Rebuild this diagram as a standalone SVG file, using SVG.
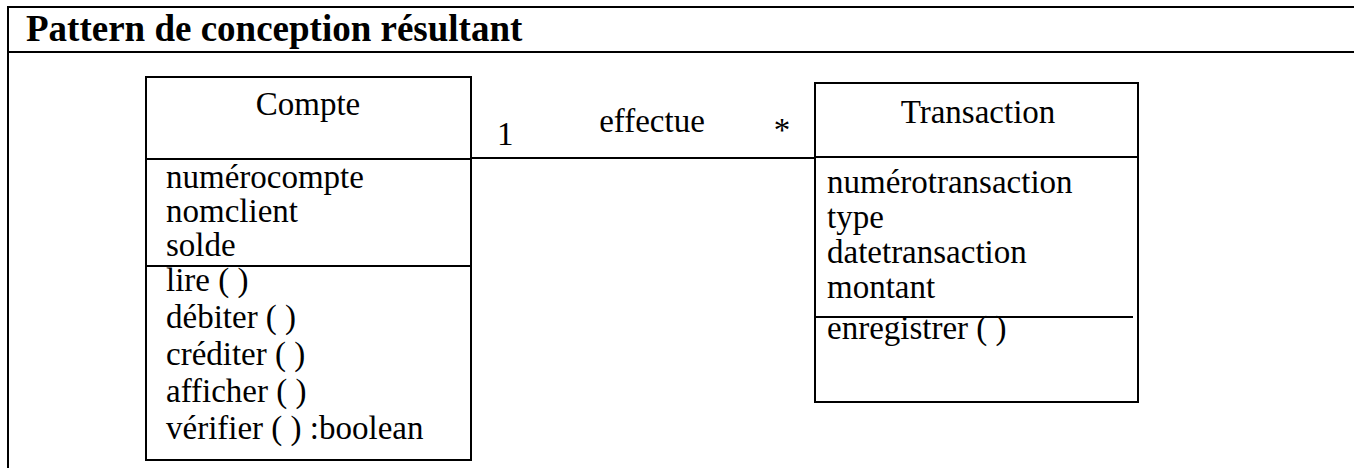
<svg xmlns="http://www.w3.org/2000/svg" width="1354" height="468" viewBox="0 0 1354 468">
<style>
.t{font-family:"Liberation Serif","Times New Roman",serif;font-size:33px;fill:#000}
.title{font-family:"Liberation Serif","Times New Roman",serif;font-size:37px;font-weight:bold;fill:#000}
.ln{stroke:#000;stroke-width:2;fill:none}
.box{stroke:#000;stroke-width:2;fill:#fff}
</style>
<rect width="1354" height="468" fill="#fff"/>
<g id="frame">
<line class="ln" x1="8" y1="7" x2="1354" y2="7"/>
<line class="ln" x1="8" y1="52" x2="1354" y2="52"/>
<line class="ln" x1="8" y1="6" x2="8" y2="468"/>
<text class="title" x="26" y="41">Pattern de conception résultant</text>
</g>
<g id="connectors">
<line class="ln" x1="462" y1="158" x2="815" y2="158"/>
<line stroke="#000" stroke-width="4" x1="462" y1="158" x2="471" y2="158"/>
<text class="t" x="497" y="145">1</text>
<text class="t" x="652" y="132" text-anchor="middle">effectue</text>
<text class="t" x="782" y="141" text-anchor="middle">*</text>
</g>
<g id="compte">
<rect class="box" x="146" y="77" width="325" height="383"/>
<line class="ln" x1="146" y1="159" x2="471" y2="159"/>
<line class="ln" x1="146" y1="266" x2="471" y2="266"/>
<text class="t" x="308" y="115" text-anchor="middle">Compte</text>
<text class="t" x="166" y="188">numérocompte</text>
<text class="t" x="166" y="222">nomclient</text>
<text class="t" x="166" y="256">solde</text>
<text class="t" x="166" y="291">lire ( )</text>
<text class="t" x="166" y="328">débiter ( )</text>
<text class="t" x="166" y="365">créditer ( )</text>
<text class="t" x="166" y="402">afficher ( )</text>
<text class="t" x="166" y="439">vérifier ( ) :boolean</text>
</g>
<g id="transaction">
<rect class="box" x="815" y="83" width="323" height="319"/>
<line class="ln" x1="815" y1="157" x2="1138" y2="157"/>
<line class="ln" x1="815" y1="317" x2="1133" y2="317"/>
<text class="t" x="978" y="123" text-anchor="middle">Transaction</text>
<text class="t" x="827" y="193">numérotransaction</text>
<text class="t" x="827" y="228">type</text>
<text class="t" x="827" y="263">datetransaction</text>
<text class="t" x="827" y="298">montant</text>
<text class="t" x="827" y="339">enregistrer ( )</text>
</g>
</svg>
